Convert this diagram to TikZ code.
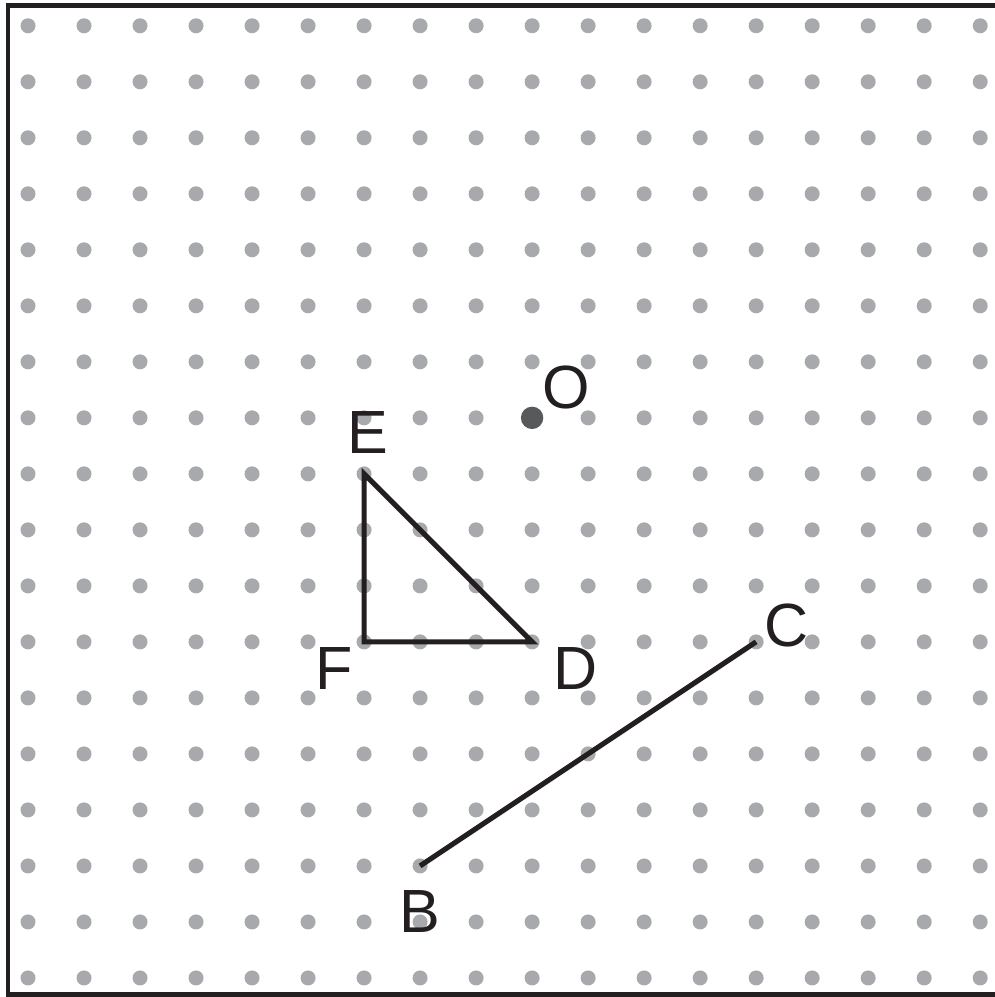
\documentclass[tikz,border=0pt]{standalone}
\usepackage{fontspec}
\setmainfont{Liberation Sans}
\usetikzlibrary{positioning}
\definecolor{dotgray}{HTML}{A7A9AC}
\definecolor{centergray}{HTML}{58595B}
\definecolor{inkblack}{HTML}{231F20}
\tikzset{
  griddot/.style={fill=dotgray},
  segline/.style={draw=inkblack,line width=2.6pt,line join=miter},
  ptlabel/.style={inner sep=0pt,text=inkblack,font=\fontsize{31}{33}\selectfont}
}

\begin{document}
\begin{tikzpicture}
        \useasboundingbox (-0.5,-0.34) rectangle (17.25,17.46);
        % Frame (right side runs off the page)
        \draw[inkblack,line width=2.5pt] (17.5,17.36) -- (-0.357,17.36) -- (-0.357,-0.30) -- (17.5,-0.30);
        
        % Dot grid
        \foreach \i in {0,...,17}
          \foreach \j in {0,...,17}
            \fill[griddot] (\i,\j) circle (0.134);
        
        % Points
        \coordinate (O) at (9,10);
        \coordinate (E) at (6,9);
        \coordinate (F) at (6,6);
        \coordinate (D) at (9,6);
        \coordinate (C) at (13,6);
        \coordinate (B) at (7,2);
        \fill[centergray] (O) circle (0.2);
        
        % Triangle DEF and segment BC
        \draw[segline] (E) -- (F) -- (D) -- cycle;
        \draw[segline] (B) -- (C);
        
        % Labels
        \node[ptlabel] (labO) at ([shift={(0.61,0.54)}]O) {O};
        \node[ptlabel] (labE) at ([shift={(0.07,0.73)}]E) {E};
        \node[ptlabel] (labF) at ([shift={(-0.54,-0.48)}]F) {F};
        \node[ptlabel] (labD) at ([shift={(0.77,-0.48)}]D) {D};
        \node[ptlabel] (labC) at ([shift={(0.54,0.30)}]C) {C};
        \node[ptlabel] (labB) at ([shift={(0,-0.82)}]B) {B};
\end{tikzpicture}
\end{document}
